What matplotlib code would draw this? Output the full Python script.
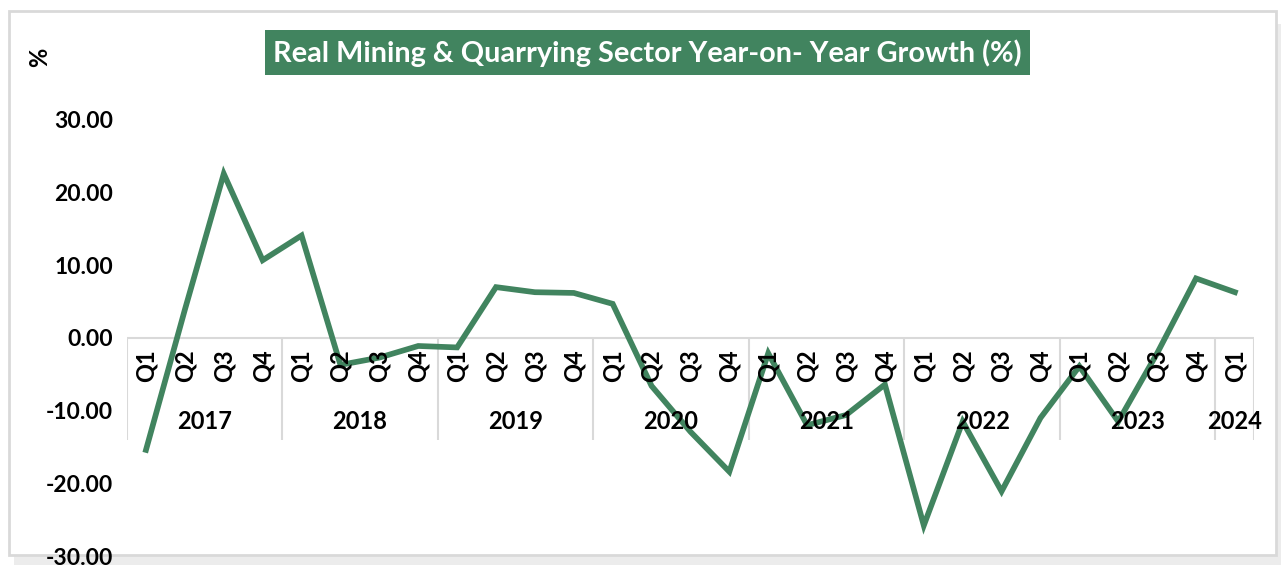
import matplotlib.pyplot as plt
from matplotlib.patches import Rectangle

# --- data ---------------------------------------------------------------
years = ['2017', '2018', '2019', '2020', '2021', '2022', '2023', '2024']
quarters = ['Q1', 'Q2', 'Q3', 'Q4'] * 7 + ['Q1']
growth = [
    -15.4, 3.9, 22.6, 10.7,      # 2017
    14.1, -3.7, -2.7, -1.1,      # 2018
    -1.3, 7.0, 6.3, 6.2,         # 2019
    4.7, -6.6, -12.9, -18.4,     # 2020
    -2.1, -12.0, -10.6, -6.4,    # 2021
    -25.8, -11.5, -21.1, -11.0,  # 2022
    -3.9, -11.5, -2.1, 8.2,      # 2023
    6.3,                         # 2024
]
yticks = [-30, -20, -10, 0, 10, 20, 30]

GREEN = '#41845F'
GRID = '#d9d9d9'
plt.rcParams['font.family'] = ['Lato', 'DejaVu Sans']
plt.rcParams['font.weight'] = 'bold'

fig = plt.figure(figsize=(12.86, 5.67), dpi=100)

# chart frame with a soft shadow
fig.patches.append(Rectangle((0.011, 0.003), 0.985, 0.955, transform=fig.transFigure,
                             facecolor='#ececec', edgecolor='none', zorder=-2))
fig.patches.append(Rectangle((0.007, 0.021), 0.985, 0.959, transform=fig.transFigure,
                             facecolor='white', edgecolor=GRID, lw=2, zorder=-1))

ax = fig.add_axes([0.0984, 0.0194, 0.877, 0.769])
ax.set_facecolor('none')
x = list(range(len(growth)))
ax.plot(x, growth, color=GREEN, lw=4.1, solid_joinstyle='miter', zorder=3)

ax.set_xlim(-0.5, len(growth) - 0.5)
ax.set_ylim(-30, 30)
ax.set_yticks(yticks)
ax.set_yticklabels([f'{v:.2f}' for v in yticks], fontsize=16.5, fontweight='bold')
ax.tick_params(axis='y', length=0, pad=9.5)
ax.set_xticks([])
for s in ax.spines.values():
    s.set_visible(False)

# category axis sitting on zero, with quarter and year levels
ax.axhline(0, color=GRID, lw=1.5, zorder=1)
bounds = [-0.5] + [i * 4 + 3.5 for i in range(7)] + [len(growth) - 0.5]
ax.vlines(bounds, -14.0, 0, color=GRID, lw=1.5, zorder=1)
for i, q in enumerate(quarters):
    ax.annotate(q, (i, 0), xytext=(0, -28), textcoords='offset pixels',
                rotation=90, ha='center', va='center', fontsize=17, fontweight='bold')
for k, yr in enumerate(years):
    xc = (bounds[k] + bounds[k + 1]) / 2
    ax.annotate(yr, (xc, 0), xytext=(0, -84), textcoords='offset pixels',
                ha='center', va='center', fontsize=17, fontweight='bold')

fig.text(0.031, 0.899, '%', rotation=90, ha='center', va='center',
         fontsize=17, fontweight='bold')
fig.text(0.5035, 0.907, 'Real Mining & Quarrying Sector Year-on- Year Growth (%)',
         ha='center', va='center', color='white', fontsize=20.8, fontweight='bold',
         bbox=dict(boxstyle='square,pad=0.3', facecolor=GREEN, edgecolor='none'))

fig.savefig('out.png', dpi=100)
